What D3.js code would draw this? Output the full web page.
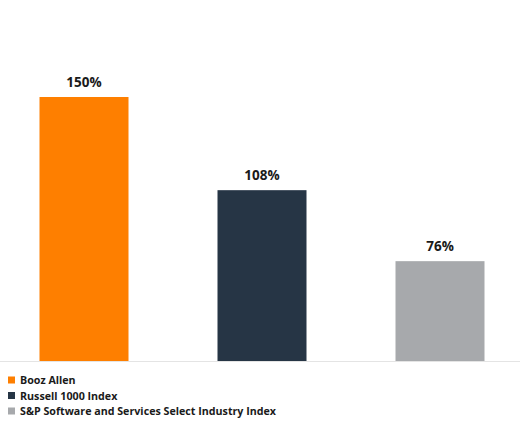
<html><head>
<script src="https://d3js.org/d3.v7.min.js"></script>
<style>
  body { margin: 0; background: #fff; }
  text { font-family: "Open Sans", "Liberation Sans", sans-serif; font-weight: bold; }
</style>
</head>
<body>
<svg id="chart" width="523" height="423"></svg>
<script>
const categories = ["Booz Allen", "Russell 1000 Index", "S&P Software and Services Select Industry Index"];
const values = [150, 108, 76];
const colors = ["#fe7f00", "#263545", "#a7a9ac"];

const svg = d3.select("#chart");
const baseY = 361;

const x = d3.scaleBand().domain(categories).range([-5, 529])
            .paddingInner(0.5).paddingOuter(0.25);
// the original axis does not start at zero
const y = d3.scaleLinear().domain([31, 150]).range([baseY, 97]);

svg.selectAll("rect.bar").data(categories).join("rect")
   .attr("class", "bar")
   .attr("x", d => x(d))
   .attr("width", x.bandwidth())
   .attr("y", (d, i) => y(values[i]))
   .attr("height", (d, i) => baseY - y(values[i]))
   .attr("fill", (d, i) => colors[i]);

svg.selectAll("text.lbl").data(categories).join("text")
   .attr("class", "lbl")
   .attr("x", d => x(d) + x.bandwidth() / 2)
   .attr("y", (d, i) => y(values[i]) - 10)
   .attr("text-anchor", "middle")
   .attr("font-size", 13.5)
   .attr("fill", "#1a1a1a")
   .text((d, i) => values[i] + "%");

svg.append("line")
   .attr("x1", 0).attr("x2", 520)
   .attr("y1", baseY + 0.5).attr("y2", baseY + 0.5)
   .attr("stroke", "#e4e4e4");

const leg = svg.selectAll("g.leg").data(categories).join("g")
   .attr("class", "leg")
   .attr("transform", (d, i) => `translate(8,${384 + i * 15.5})`);
leg.append("rect").attr("x", 0).attr("y", -7.5).attr("width", 7).attr("height", 7)
   .attr("fill", (d, i) => colors[i]);
leg.append("text").attr("x", 12).attr("y", 0)
   .attr("font-size", 10.7).attr("fill", "#1a1a1a")
   .text(d => d);
</script>
</body>
</html>
